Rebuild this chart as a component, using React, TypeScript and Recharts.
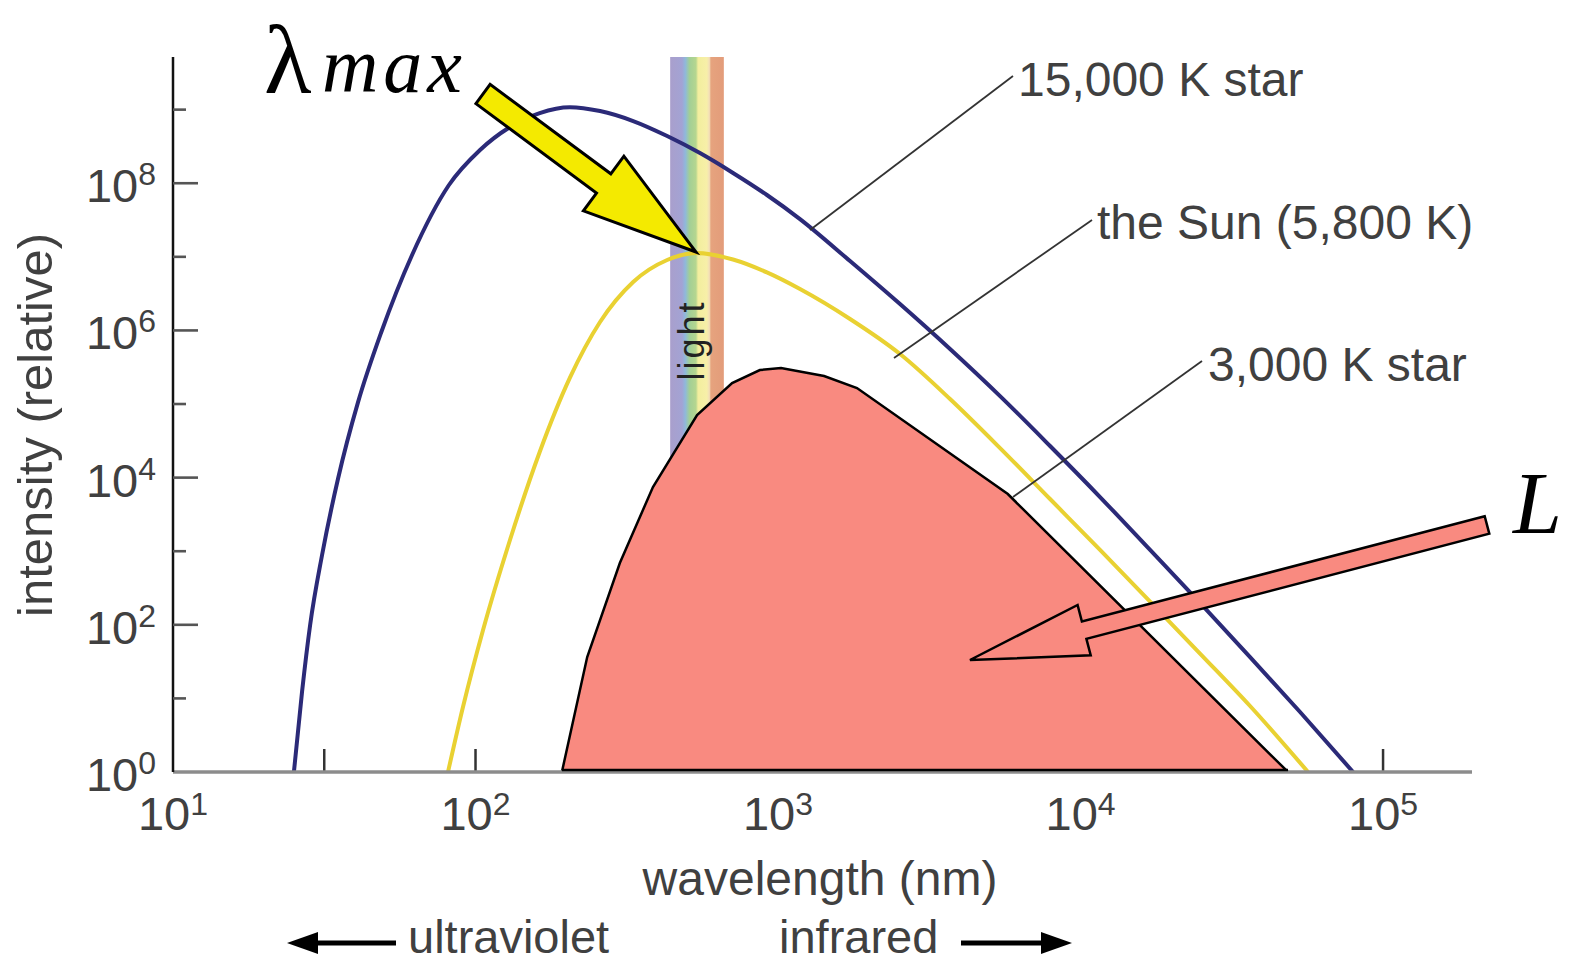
import React from 'react';
import { ComposedChart, Line, Area, XAxis, YAxis, ReferenceArea, ReferenceLine } from 'recharts';

// ---------- data (wavelength in nm, relative intensity) ----------
const blueWavelength = [25.1, 26.7, 28.4, 31.1, 35.1, 40.9, 48.7, 61.7, 81.7, 103.5, 130, 163, 205, 258, 332, 430, 552, 710, 919, 1182, 1730, 2531, 3704, 5420, 7930, 11600, 16980, 24830, 36340, 53170, 79600];
const blueIntensity = [1, 12.2, 99.4, 888, 9570, 1.06e5, 9.22e5, 1.06e7, 9.46e7, 2.83e8, 5.8e8, 8.99e8, 1.08e9, 9.57e8, 7.0e8, 4.38e8, 2.57e8, 1.38e8, 6.92e7, 3.26e7, 8.77e6, 2.28e6, 5.59e5, 1.28e5, 26900, 5450, 1040, 198, 36.5, 6.53, 1];

const sunWavelength = [81.1, 90.9, 105.9, 130, 163, 205, 258, 332, 430, 540, 710, 919, 1182, 1730, 2531, 3704, 5420, 7930, 11600, 16980, 24830, 36340, 56500];
const sunIntensity = [1, 7.64, 85, 1420, 22300, 2.26e5, 1.3e6, 4.55e6, 9.05e6, 1.13e7, 9.19e6, 6.14e6, 3.65e6, 1.43e6, 4.78e5, 1.17e5, 25200, 5120, 1040, 207, 40.7, 7.88, 1];

const redWavelength = [193, 234, 300, 386, 540, 705, 871, 1023, 1420, 1824, 5750, 48500];
const redIntensity = [1, 36.5, 692, 7450, 70900, 192800, 289600, 308000, 240000, 165000, 5980, 1];

const xTicks = [10, 31.62, 100, 316.2, 1000, 3162, 10000, 31620, 100000];
const xTickSup = ['1', '', '2', '', '3', '', '4', '', '5'];
const yTicks = [1, 10, 100, 1e3, 1e4, 1e5, 1e6, 1e7, 1e8, 1e9];
const yTickSup = ['0', '', '2', '', '4', '', '6', '', '8', ''];

const xDomain = [10, 196800];
const yDomain = [1, 5.19e9];
const visibleBand = [440, 662];
const xTickMarkTop = 2.055; // tick mark height, in intensity units just above the baseline

// ---------- merged table built from the arrays ----------
const rowMap = new Map<number, any>();
function addSeries(ws: number[], vs: number[], key: string) {
  ws.forEach((w, i) => {
    const r = rowMap.get(w) || { w };
    r[key] = vs[i];
    rowMap.set(w, r);
  });
}
addSeries(blueWavelength, blueIntensity, 'blue');
addSeries(sunWavelength, sunIntensity, 'sun');
addSeries(redWavelength, redIntensity, 'red');
const table = Array.from(rowMap.values()).sort((a, b) => a.w - b.w);

const redMin = redWavelength[0];
const redMax = redWavelength[redWavelength.length - 1];
// tick marks that are not covered by the filled 3,000 K area (and not on the y axis)
const visibleTickMarks = xTicks.filter((v, i) => i > 0 && !(v > redMin && v < redMax));

const FONT = '"Liberation Sans", Arial, Helvetica, sans-serif';
const SERIF = '"Liberation Serif", "DejaVu Serif", serif';
const TXT = '#404040';

const XTick = (props: any) => {
  const { x, y, payload } = props;
  const i = xTicks.indexOf(payload.value);
  const sup = xTickSup[i];
  if (!sup) return <g />;
  return (
    <text x={x} y={y + 58} textAnchor="middle" fontFamily={FONT} fontSize={47} fill={TXT}>
      10<tspan fontSize={32} dy={-15}>{sup}</tspan>
    </text>
  );
};

const YTick = (props: any) => {
  const { x, y, payload } = props;
  const i = yTicks.indexOf(payload.value);
  const sup = yTickSup[i];
  const len = sup ? 25 : 13;
  return (
    <g>
      {i > 0 && <line x1={x} x2={x + len} y1={y} y2={y} stroke="#555" strokeWidth={2.6} />}
      {sup && (
        <text x={x - 17} y={y + 19} textAnchor="end" fontFamily={FONT} fontSize={47} fill={TXT}>
          10<tspan fontSize={32} dy={-17}>{sup}</tspan>
        </text>
      )}
    </g>
  );
};

function arrowPoly(tx: number, ty: number, px: number, py: number, hw: number, headLen: number, headHw: number) {
  const dx = px - tx, dy = py - ty;
  const L = Math.hypot(dx, dy);
  const ux = dx / L, uy = dy / L;
  const nx = -uy, ny = ux;
  const bx = px - headLen * ux, by = py - headLen * uy;
  const pts = [
    [tx + hw * nx, ty + hw * ny],
    [bx + hw * nx, by + hw * ny],
    [bx + headHw * nx, by + headHw * ny],
    [px, py],
    [bx - headHw * nx, by - headHw * ny],
    [bx - hw * nx, by - hw * ny],
    [tx - hw * nx, ty - hw * ny],
  ];
  return pts.map((p) => p[0].toFixed(1) + ',' + p[1].toFixed(1)).join(' ');
}

export default function App() {
  return (
    <div style={{ position: 'absolute', left: 0, top: 0, width: 1581, height: 964, background: '#fff' }}>
      <ComposedChart width={1581} height={964} data={table} margin={{ top: 57, right: 109, bottom: 191, left: 172 }}>
        <defs>
          <linearGradient id="rainbow" x1="0" y1="0" x2="1" y2="0">
            <stop offset="0" stopColor="#a99fcc" />
            <stop offset="0.22" stopColor="#a3a3d4" />
            <stop offset="0.28" stopColor="#8fb8dc" />
            <stop offset="0.36" stopColor="#a2cf96" />
            <stop offset="0.48" stopColor="#b5d68f" />
            <stop offset="0.52" stopColor="#f2ee9e" />
            <stop offset="0.68" stopColor="#f7efa8" />
            <stop offset="0.73" stopColor="#f3e0b8" />
            <stop offset="0.76" stopColor="#e6a37e" />
            <stop offset="1" stopColor="#e39c7a" />
          </linearGradient>
        </defs>
        <XAxis
          dataKey="w"
          type="number"
          scale="log"
          domain={xDomain}
          allowDataOverflow
          ticks={xTicks}
          interval={0}
          tick={<XTick />}
          tickLine={false}
          tickSize={0}
          tickMargin={0}
          height={1}
          axisLine={{ stroke: '#8c8c8c', strokeWidth: 3.5 }}
        />
        <YAxis
          type="number"
          scale="log"
          domain={yDomain}
          allowDataOverflow
          ticks={yTicks}
          interval={0}
          tick={<YTick />}
          tickLine={false}
          tickSize={0}
          tickMargin={0}
          width={1}
          axisLine={{ stroke: '#111', strokeWidth: 2.5 }}
        />
        <ReferenceArea x1={visibleBand[0]} x2={visibleBand[1]} fill="url(#rainbow)" fillOpacity={1} stroke="none" ifOverflow="visible" />
        {visibleTickMarks.map((v) => (
          <ReferenceLine key={v} segment={[{ x: v, y: 1 }, { x: v, y: xTickMarkTop }]} stroke="#333" strokeWidth={2.5} ifOverflow="visible" />
        ))}
        <Area
          dataKey="red"
          type="linear"
          baseValue={1}
          connectNulls
          fill="#f98a80"
          fillOpacity={1}
          stroke="#000"
          strokeWidth={2.5}
          dot={false}
          activeDot={false}
          isAnimationActive={false}
        />
        <Line dataKey="sun" type="monotone" connectNulls stroke="#e9d132" strokeWidth={4} dot={false} activeDot={false} isAnimationActive={false} />
        <Line dataKey="blue" type="monotone" connectNulls stroke="#2b2a78" strokeWidth={4} dot={false} activeDot={false} isAnimationActive={false} />
      </ComposedChart>

      <svg width={1581} height={964} style={{ position: 'absolute', left: 0, top: 0, pointerEvents: 'none' }}>
        {/* red area base line */}
        <line x1={562} x2={1288} y1={770} y2={770} stroke="#000" strokeWidth={2.5} />
        {/* visible light label */}
        <text transform="translate(704,340) rotate(-90)" textAnchor="middle" fontFamily={FONT} fontSize={36} letterSpacing={3} fill="#222">light</text>

        {/* leader lines and curve labels */}
        <line x1={810} y1={230} x2={1013} y2={76} stroke="#333" strokeWidth={1.8} />
        <line x1={894} y1={358} x2={1092} y2={220} stroke="#333" strokeWidth={1.8} />
        <line x1={1013} y1={497} x2={1202} y2={361} stroke="#333" strokeWidth={1.8} />
        <text x={1018} y={96} fontFamily={FONT} fontSize={48} fill={TXT}>15,000 K star</text>
        <text x={1097} y={239} fontFamily={FONT} fontSize={48} fill={TXT}>the Sun (5,800 K)</text>
        <text x={1208} y={381} fontFamily={FONT} fontSize={48} fill={TXT}>3,000 K star</text>

        {/* axis titles */}
        <text x={820} y={895} textAnchor="middle" fontFamily={FONT} fontSize={48} fill={TXT}>wavelength (nm)</text>
        <text transform="translate(52,425) rotate(-90)" textAnchor="middle" fontFamily={FONT} fontSize={49} fill={TXT}>intensity (relative)</text>

        {/* ultraviolet / infrared */}
        <line x1={310} y1={943} x2={396} y2={943} stroke="#000" strokeWidth={5} />
        <polygon points="287,943 318,932 318,954" fill="#000" />
        <text x={408} y={953} fontFamily={FONT} fontSize={47} fill={TXT}>ultraviolet</text>
        <text x={779} y={953} fontFamily={FONT} fontSize={47} fill={TXT}>infrared</text>
        <line x1={961} y1={943} x2={1048} y2={943} stroke="#000" strokeWidth={5} />
        <polygon points="1072,943 1041,932 1041,954" fill="#000" />

        {/* lambda max */}
        <text x={264} y={93} fontFamily={SERIF} fontSize={98} fill="#000">λ</text>
        <text x={322} y={92} fontFamily={SERIF} fontStyle="italic" fontSize={78} letterSpacing={5} fill="#000">max</text>
        <polygon points={arrowPoly(483, 94, 696, 252, 12, 115, 34)} fill="#f4ea00" stroke="#000" strokeWidth={3} strokeLinejoin="miter" />

        {/* L arrow */}
        <polygon points={arrowPoly(1487, 525, 970, 660, 9, 118, 26)} fill="#f98a80" stroke="#000" strokeWidth={2.5} strokeLinejoin="miter" />
        <text x={1513} y={533} fontFamily={SERIF} fontStyle="italic" fontSize={88} fill="#000">L</text>
      </svg>
    </div>
  );
}
